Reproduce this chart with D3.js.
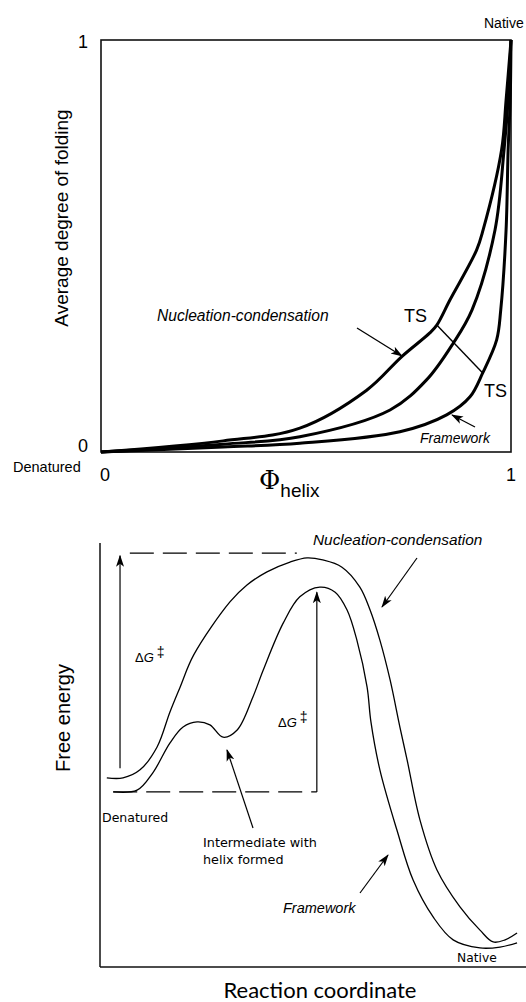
<!DOCTYPE html>
<html>
<head>
<meta charset="utf-8">
<script src="https://cdn.jsdelivr.net/npm/d3@7"></script>
<style>
  body { margin:0; background:#fff; }
  svg { display:block; }
</style>
</head>
<body>
<svg id="canvas"></svg>
<script>
// top panel: average degree of folding vs phi(helix)
let ncPhi  = [0, 0.298, 0.485, 0.648, 0.733, 0.802, 0.819, 0.851, 0.916, 0.932, 0.977, 0.988, 1]
let ncFold = [0, 0.027, 0.058, 0.150, 0.231, 0.289, 0.308, 0.369, 0.490, 0.539, 0.733, 0.854, 1]
let midPhi  = [0, 0.298, 0.485, 0.705, 0.794, 0.859, 0.905, 0.961, 0.983, 0.993, 1]
let midFold = [0, 0.019, 0.037, 0.102, 0.175, 0.264, 0.345, 0.539, 0.733, 0.854, 1]
let fwPhi  = [0, 0.298, 0.485, 0.729, 0.843, 0.900, 0.931, 0.965, 0.975, 0.988, 0.993, 0.998, 1]
let fwFold = [0, 0.012, 0.021, 0.049, 0.090, 0.134, 0.192, 0.272, 0.345, 0.539, 0.733, 0.854, 1]
let tsPhi  = [0.819, 0.931]
let tsFold = [0.308, 0.192]

// bottom panel: free energy vs reaction coordinate
let ncCoord  = [1.6, 5.4, 9.4, 13.4, 16.4, 18.8, 22.0, 30.5, 34.5, 39.2, 44.6, 48.6, 52.3, 56.8, 61.0, 63.4, 65.7, 68.1, 70.4, 72.1, 75.1, 79.1, 84.5, 89.2, 92.3, 95.1, 97.9]
let ncEnergy = [44.6, 44.6, 46.5, 51.9, 60.1, 66.0, 73.6, 86.1, 90.1, 93.2, 95.5, 96.5, 96.0, 94.3, 89.6, 84.2, 77.1, 67.7, 56.6, 48.8, 34.7, 22.9, 14.2, 8.7, 5.9, 6.4, 8.0]
let fwCoord  = [3.1, 8.7, 12.4, 16.4, 19.5, 22.8, 25.8, 28.9, 32.2, 35.9, 38.3, 43.0, 46.9, 51.6, 55.2, 58.0, 60.3, 62.7, 63.6, 65.7, 69.7, 73.5, 78.2, 82.9, 89.2, 93.9, 97.9]
let fwEnergy = [41.3, 41.7, 45.8, 52.8, 56.6, 57.8, 57.1, 54.2, 55.9, 63.7, 70.0, 81.1, 87.3, 89.6, 88.4, 84.2, 77.1, 66.0, 57.8, 46.5, 32.3, 20.5, 11.8, 6.4, 4.5, 4.7, 5.7]

// barrier annotations (reaction coordinate / free energy units)
let ncDenatured = 46.9, ncTop = 97.6, ncArrowX = 4.7
let fwDenatured = 41.3, fwTop = 88.4, fwArrowX = 50.9

let width=526
let height=1002

let canvas=d3.select('#canvas')
canvas.attr('width',width).attr('height',height)

let defs=canvas.append('defs')
defs.append('marker')
  .attr('id','arrow')
  .attr('viewBox','0 -5 12 10')
  .attr('refX',11).attr('refY',0)
  .attr('markerWidth',12).attr('markerHeight',10)
  .attr('markerUnits','userSpaceOnUse')
  .attr('orient','auto')
  .append('path')
  .attr('d','M0,-4L12,0L0,4L3,0Z')
  .attr('fill','#000')

let zip=(xs,ys)=>xs.map((x,i)=>[x,ys[i]])

// ---------- top panel ----------
let xScale=d3.scaleLinear().domain([0,1]).range([101,511])
let yScale=d3.scaleLinear().domain([0,1]).range([452,40])

let topPanel=canvas.append('g')

topPanel.append('rect')
  .attr('x',xScale(0)).attr('y',yScale(1))
  .attr('width',xScale(1)-xScale(0)).attr('height',yScale(0)-yScale(1))
  .attr('fill','none').attr('stroke','#111').attr('stroke-width',1.6)

let lineTop=d3.line()
  .x(d=>xScale(d[0]))
  .y(d=>yScale(d[1]))
  .curve(d3.curveCatmullRom.alpha(0.5))

;[zip(ncPhi,ncFold),zip(midPhi,midFold),zip(fwPhi,fwFold)].forEach(c=>{
  topPanel.append('path')
    .attr('d',lineTop(c))
    .attr('fill','none')
    .attr('stroke','#000')
    .attr('stroke-width',3)
    .attr('stroke-linejoin','round')
})

topPanel.append('line')
  .attr('x1',xScale(tsPhi[0])).attr('y1',yScale(tsFold[0]))
  .attr('x2',xScale(tsPhi[1])).attr('y2',yScale(tsFold[1]))
  .attr('stroke','#000').attr('stroke-width',1.4)

let sans='"Liberation Sans", Arial, sans-serif'

let txt=(g,x,y,s,size,opts)=>{
  opts=opts||{}
  return g.append('text')
    .attr('x',x).attr('y',y)
    .attr('font-family',opts.family||sans)
    .attr('font-size',size)
    .attr('font-style',opts.italic?'italic':'normal')
    .attr('text-anchor',opts.anchor||'start')
    .attr('fill','#000')
    .text(s)
}

txt(topPanel,88,48,'1',18,{anchor:'end'})
txt(topPanel,88,452,'0',18,{anchor:'end'})
txt(topPanel,13,472,'Denatured',14.5)
txt(topPanel,xScale(0)-1,481,'0',18)
txt(topPanel,xScale(1),481,'1',18,{anchor:'middle'})
txt(topPanel,484,28,'Native',14)

let phi=topPanel.append('text')
  .attr('x',259).attr('y',489)
  .attr('font-family','"DejaVu Serif", "Liberation Serif", serif')
  .attr('font-size',26)
phi.append('tspan').text('\u03A6')
phi.append('tspan')
  .attr('font-family',sans).attr('font-size',19)
  .attr('dy',8)
  .text('helix')

topPanel.append('text')
  .attr('transform','translate(68,218) rotate(-90)')
  .attr('font-family',sans).attr('font-size',19)
  .attr('text-anchor','middle')
  .text('Average degree of folding')

txt(topPanel,157,321,'Nucleation-condensation',15.6,{italic:true})
txt(topPanel,404,322,'TS',18)
txt(topPanel,484,397,'TS',18)
txt(topPanel,420,443,'Framework',14,{italic:true})

topPanel.append('line')
  .attr('x1',357).attr('y1',328).attr('x2',402).attr('y2',356)
  .attr('stroke','#000').attr('stroke-width',1.3)
  .attr('marker-end','url(#arrow)')
topPanel.append('line')
  .attr('x1',475).attr('y1',427).attr('x2',452).attr('y2',415)
  .attr('stroke','#000').attr('stroke-width',1.3)
  .attr('marker-end','url(#arrow)')

// ---------- bottom panel ----------
let rScale=d3.scaleLinear().domain([0,100]).range([100,526])
let gScale=d3.scaleLinear().domain([0,100]).range([967,543])

let bot=canvas.append('g')

bot.append('line')
  .attr('x1',rScale(0)).attr('y1',gScale(100))
  .attr('x2',rScale(0)).attr('y2',gScale(0))
  .attr('stroke','#111').attr('stroke-width',1.5)
bot.append('line')
  .attr('x1',rScale(0)).attr('y1',gScale(0))
  .attr('x2',rScale(100)).attr('y2',gScale(0))
  .attr('stroke','#111').attr('stroke-width',1.5)

let lineBot=d3.line()
  .x(d=>rScale(d[0]))
  .y(d=>gScale(d[1]))
  .curve(d3.curveCatmullRom.alpha(0.5))

;[zip(ncCoord,ncEnergy),zip(fwCoord,fwEnergy)].forEach(c=>{
  bot.append('path')
    .attr('d',lineBot(c))
    .attr('fill','none')
    .attr('stroke','#000')
    .attr('stroke-width',1.3)
})

// dashed reference levels
bot.append('line')
  .attr('x1',rScale(7.0)).attr('y1',gScale(ncTop))
  .attr('x2',rScale(46.2)).attr('y2',gScale(ncTop))
  .attr('stroke','#000').attr('stroke-width',1.2)
  .attr('stroke-dasharray','24,9')
bot.append('line')
  .attr('x1',rScale(fwCoord[0])).attr('y1',gScale(fwDenatured))
  .attr('x2',rScale(fwArrowX)).attr('y2',gScale(fwDenatured))
  .attr('stroke','#000').attr('stroke-width',1.2)
  .attr('stroke-dasharray','24,9')

// barrier arrows
bot.append('line')
  .attr('x1',rScale(ncArrowX)).attr('y1',gScale(ncDenatured))
  .attr('x2',rScale(ncArrowX)).attr('y2',gScale(ncTop-0.6))
  .attr('stroke','#000').attr('stroke-width',1.2)
  .attr('marker-end','url(#arrow)')
bot.append('line')
  .attr('x1',rScale(fwArrowX)).attr('y1',gScale(fwDenatured))
  .attr('x2',rScale(fwArrowX)).attr('y2',gScale(fwTop))
  .attr('stroke','#000').attr('stroke-width',1.2)
  .attr('marker-end','url(#arrow)')

let dg=(x,y)=>{
  let t=bot.append('text').attr('x',x).attr('y',y)
    .attr('font-family',sans).attr('font-size',13)
  t.append('tspan').text('\u0394')
  t.append('tspan').attr('font-style','italic').text('G')
  t.append('tspan').attr('dx',3).attr('dy',-5).attr('font-size',14).text('\u2021')
}
dg(135,662)
dg(278,727)

let geneva='"DejaVu Sans", Verdana, sans-serif'
txt(bot,102,822,'Denatured',12.5,{family:geneva})
txt(bot,203,847,'Intermediate with',12.8,{family:geneva})
txt(bot,203,864,'helix formed',12.8,{family:geneva})
txt(bot,457,962,'Native',12.3,{family:geneva})
txt(bot,313,545,'Nucleation-condensation',15.4,{italic:true})
txt(bot,283,913,'Framework',14.5,{italic:true})

bot.append('text')
  .attr('transform','translate(70,718) rotate(-90)')
  .attr('font-family',sans).attr('font-size',20)
  .attr('text-anchor','middle')
  .text('Free energy')

txt(bot,320,998,'Reaction coordinate',22,{family:'Lato, "Open Sans", sans-serif',anchor:'middle'})

// annotation arrows
bot.append('line')
  .attr('x1',417).attr('y1',558).attr('x2',382).attr('y2',607)
  .attr('stroke','#000').attr('stroke-width',1.2)
  .attr('marker-end','url(#arrow)')
bot.append('line')
  .attr('x1',253).attr('y1',828).attr('x2',227).attr('y2',750)
  .attr('stroke','#000').attr('stroke-width',1.2)
  .attr('marker-end','url(#arrow)')
bot.append('line')
  .attr('x1',360).attr('y1',893).attr('x2',388).attr('y2',855)
  .attr('stroke','#000').attr('stroke-width',1.2)
  .attr('marker-end','url(#arrow)')
</script>
</body>
</html>
